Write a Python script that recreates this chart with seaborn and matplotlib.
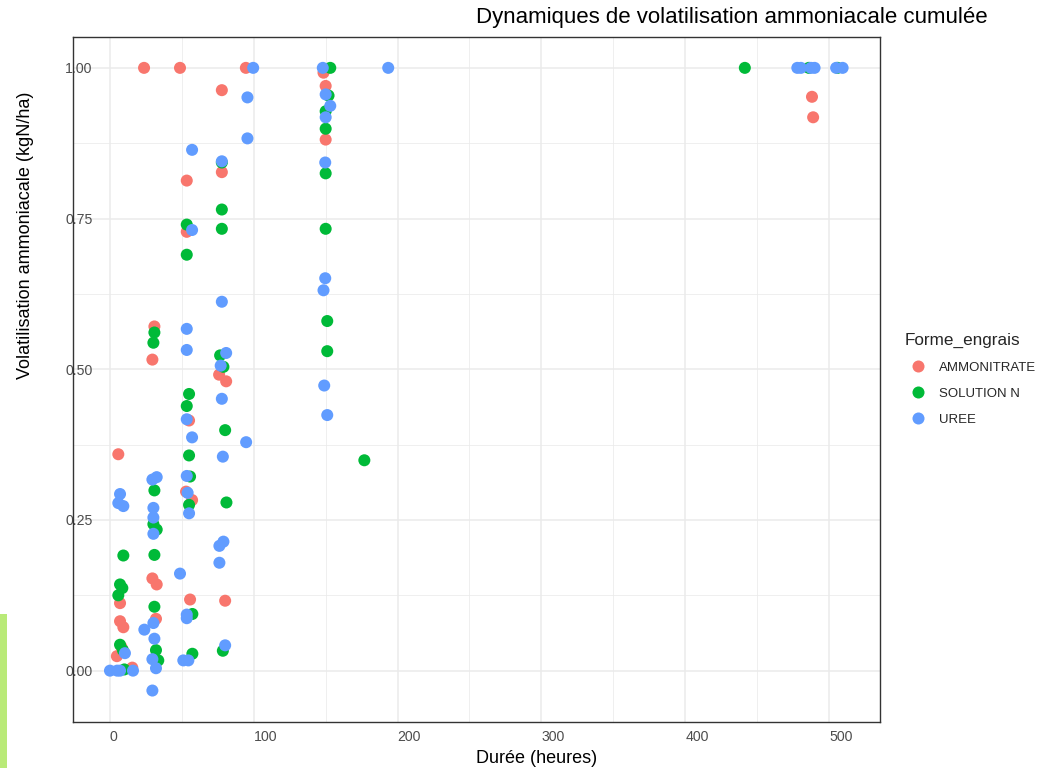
import matplotlib
matplotlib.use("Agg")
import matplotlib.pyplot as plt
from matplotlib.patches import Rectangle
from matplotlib.ticker import MultipleLocator, FixedLocator
import seaborn as sns
import pandas as pd

# ---- data ----
ammo_x = [23.7, 48.7, 94.5, 148.5, 150, 150, 77.8, 77.8, 53.4, 53.4, 30.9, 29.5,
          75.9, 80.8, 55, 5.8, 52.9, 57.1, 29.5, 32.5, 7, 55.7, 80.1, 7, 9.3, 32,
          8, 4.8, 15.5, 488.2, 489]
ammo_y = [1.0, 1.0, 1.0, 0.992, 0.970, 0.881, 0.963, 0.827, 0.813, 0.728, 0.571, 0.516,
          0.491, 0.480, 0.415, 0.359, 0.297, 0.283, 0.153, 0.143, 0.112, 0.118, 0.116, 0.082, 0.072, 0.086,
          0.039, 0.024, 0.005, 0.952, 0.918]

sol_x = [153.2, 152, 150, 150, 77.8, 150, 77.8, 77.8, 53.4, 150, 53.4, 151.1, 30.9, 30.2,
         151.1, 76.6, 78.9, 55, 53.4, 80.1, 55, 176.9, 55.7, 30.9, 55, 81, 30.2, 32.5,
         9.3, 30.9, 7, 8.6, 5.8, 30.9, 57.3, 7, 9, 32, 78.5, 57.3, 33.6, 10, 441.5, 486, 506]
sol_y = [1.0, 0.954, 0.928, 0.899, 0.843, 0.825, 0.765, 0.733, 0.740, 0.733, 0.690, 0.580, 0.561, 0.544,
         0.530, 0.523, 0.504, 0.459, 0.439, 0.399, 0.357, 0.349, 0.322, 0.299, 0.275, 0.279, 0.243, 0.234,
         0.191, 0.192, 0.143, 0.137, 0.125, 0.106, 0.094, 0.043, 0.034, 0.034, 0.033, 0.028, 0.017, 0.002,
         1.0, 1.0, 1.0]

uree_x = [99.6, 148, 193.5, 150, 153.2, 150, 95.6, 95.6, 57.1, 77.8, 149.7, 57.1, 149.7, 148.5,
          77.8, 53.4, 53.4, 80.8, 77, 149, 151.1, 77.8, 53.4, 57.1, 94.7, 78.5, 29.5, 32.5,
          53.4, 7, 5.8, 9.3, 30.2, 30.2, 55, 30.2, 54, 76.1, 78.9, 76.1, 48.7, 53.4, 53.4,
          30.2, 23.9, 30.9, 10.4, 80.1, 51, 54.5, 29.5, 32, 29.5, 0, 7, 16, 5,
          478, 480.5, 487.5, 490, 505, 509.5]
uree_y = [1.0, 1.0, 1.0, 0.956, 0.937, 0.918, 0.951, 0.883, 0.864, 0.845, 0.843, 0.731, 0.651, 0.631,
          0.612, 0.567, 0.532, 0.527, 0.506, 0.473, 0.424, 0.451, 0.417, 0.387, 0.379, 0.355, 0.317, 0.321,
          0.323, 0.293, 0.278, 0.273, 0.270, 0.254, 0.261, 0.227, 0.295, 0.207, 0.214, 0.179, 0.161, 0.093, 0.087,
          0.079, 0.068, 0.053, 0.029, 0.042, 0.017, 0.017, 0.019, 0.004, -0.033, 0.0, 0.0, 0.0, 0.0,
          1.0, 1.0, 1.0, 1.0, 1.0, 1.0]

groups = ["AMMONITRATE", "SOLUTION N", "UREE"]
colors = ["#F8766D", "#00BA38", "#619CFF"]
x_ticks = [0, 100, 200, 300, 400, 500]
y_ticks = [0.00, 0.25, 0.50, 0.75, 1.00]
y_labels = ["0.00", "0.25", "0.50", "0.75", "1.00"]

df = pd.concat([
    pd.DataFrame({"Duree": ammo_x, "Volat": ammo_y, "Forme_engrais": groups[0]}),
    pd.DataFrame({"Duree": sol_x, "Volat": sol_y, "Forme_engrais": groups[1]}),
    pd.DataFrame({"Duree": uree_x, "Volat": uree_y, "Forme_engrais": groups[2]}),
], ignore_index=True)

# ---- style ----
sns.set_style("white")
plt.rcParams["font.family"] = ["Liberation Sans", "DejaVu Sans"]

W, H = 1038, 768
fig = plt.figure(figsize=(W / 100, H / 100), dpi=100)
ax_l, ax_r, ax_t, ax_b = 73.3, 880.0, 36.7, 721.7
ax = fig.add_axes([ax_l / W, 1 - ax_b / H, (ax_r - ax_l) / W, (ax_b - ax_t) / H])

sns.scatterplot(data=df, x="Duree", y="Volat", hue="Forme_engrais",
                hue_order=groups, palette=dict(zip(groups, colors)),
                s=75, linewidth=0, alpha=1, ax=ax, zorder=3)

ax.set_xlim(-25.5, 535.5)
ax.set_ylim(-0.0847, 1.0517)
ax.xaxis.set_major_locator(FixedLocator(x_ticks))
ax.xaxis.set_minor_locator(MultipleLocator(50))
ax.yaxis.set_major_locator(FixedLocator(y_ticks))
ax.set_yticklabels(y_labels)
ax.yaxis.set_minor_locator(MultipleLocator(0.125))
ax.grid(which="major", color="#EBEBEB", lw=1.1)
ax.grid(which="minor", color="#EBEBEB", lw=0.55)
ax.set_axisbelow(True)
for sp in ax.spines.values():
    sp.set_color("#333333")
    sp.set_linewidth(1.0)
    sp.set_zorder(5)

ax.tick_params(which="minor", length=0)
ax.tick_params(axis="both", which="major", length=2.75, width=0.8, color="#333333",
               labelcolor="#4D4D4D", labelsize=10.2)
ax.tick_params(axis="x", which="major", pad=3.5)
ax.tick_params(axis="y", which="major", pad=3.2)
for lab in ax.get_xticklabels():
    lab.set_horizontalalignment("left")
for lab in ax.get_yticklabels():
    lab.set_horizontalalignment("left")
    lab.set_zorder(6)

ax.set_xlabel("")
ax.set_ylabel("")
fig.text(476.5 / W, 1 - 758.5 / H, "Durée (heures)", ha="left", va="center",
         fontsize=13, color="black")
fig.text(26 / W, 1 - 379 / H, "Volatilisation ammoniacale (kgN/ha)", rotation=90,
         rotation_mode="anchor", ha="left", va="center", fontsize=13, color="black")

sns.move_legend(ax, "center left", bbox_to_anchor=(1 + (905 - ax_r) / (ax_r - ax_l), 0.5),
                title="Forme_engrais", frameon=False, fontsize=9.5, title_fontsize=12.3,
                borderaxespad=0, borderpad=0, handlelength=2.0, handletextpad=0.6,
                labelspacing=1.05, alignment="left", markerscale=1.0)

fig.text(476 / W, 1 - 18 / H, "Dynamiques de volatilisation ammoniacale cumulée",
         ha="left", va="center", fontsize=16, color="black")

fig.patches.append(Rectangle((0, 0), 7 / W, 154 / H, transform=fig.transFigure,
                             facecolor="#b9ea78", edgecolor="none"))

fig.savefig("out.png", dpi=100)
